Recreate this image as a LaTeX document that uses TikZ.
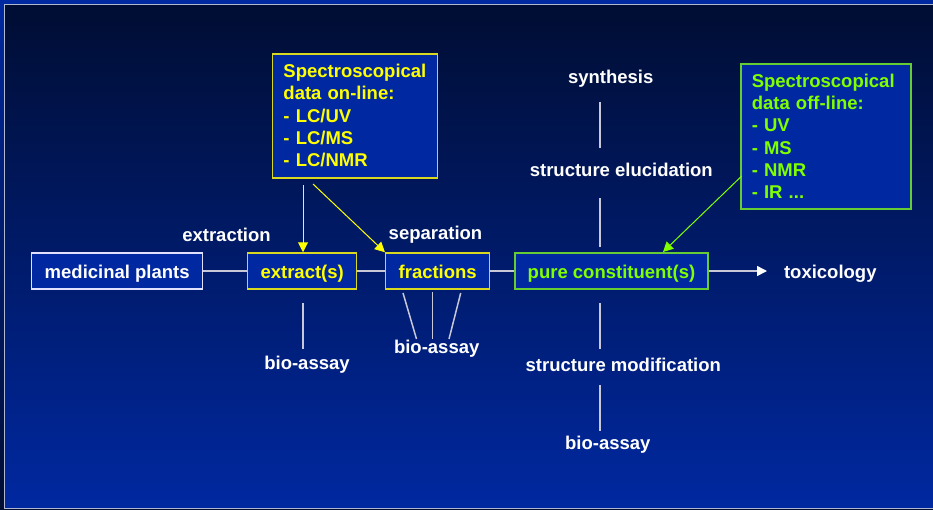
\documentclass[tikz,border=0pt]{standalone}
\usepackage{fontspec}
\setmainfont{Liberation Sans}
\usetikzlibrary{arrows.meta}
\definecolor{bgtop}{HTML}{000D33}
\definecolor{bgbot}{HTML}{0028A0}
\definecolor{boxfill}{HTML}{0028A0}
\definecolor{ylw}{HTML}{FFFF00}
\definecolor{ylwborder}{HTML}{D8D820}
\definecolor{grn}{HTML}{80FF00}
\definecolor{grnborder}{HTML}{66CC33}
\definecolor{conncol}{HTML}{C8C8D8}
\definecolor{frame}{HTML}{B0B8D0}
\tikzset{
  lbl/.style={font=\fontsize{18.5}{22}\selectfont\bfseries, text=white, inner sep=0pt, anchor=base},
  boxnode/.style={draw, line width=1.5pt, fill=boxfill, font=\fontsize{18.5}{22}\selectfont\bfseries,
     minimum height=36pt, inner sep=0pt, text height=14.6pt, text depth=0pt},
  whitebox/.style={boxnode, draw=white!88!blue, text=white},
  ylwbox/.style={boxnode, draw=ylwborder, text=ylw},
  grnbox/.style={boxnode, draw=grnborder, text=grn},
  infobox/.style={draw, line width=1.5pt, fill=boxfill, font=\fontsize{18.5}{22.3}\selectfont\bfseries,
     align=left, inner xsep=11pt, inner ysep=0pt, anchor=north west},
  conn/.style={draw=conncol, line width=1.5pt},
  yarrow/.style={draw=ylw, line width=1pt, -{Triangle[length=10pt,width=10pt]}},
  garrow/.style={draw=grn, line width=1pt, -{Triangle[length=10pt,width=10pt]}},
  warrow/.style={draw=conncol, line width=1.5pt, -{Triangle[length=10pt,width=10pt,fill=white,color=white]}}
}
\begin{document}
\begin{tikzpicture}[x=1pt,y=-1pt]
\useasboundingbox (0,0) rectangle (933,509);
% background
\shade[top color=bgbot, bottom color=bgtop] (0,0) rectangle (933,509);
\shade[top color=bgtop, bottom color=bgbot] (5,5) rectangle (933,507.5);
\draw[frame, line width=1pt] (933,4.5) -- (4.5,4.5) -- (4.5,508) -- (933,508);

% main row
\node[whitebox, minimum width=171pt] (plants) at (117.2,271) {medicinal plants};
\node[ylwbox, minimum width=109pt] (extract) at (302.2,271) {extract(s)};
\node[ylwbox, minimum width=104pt] (fractions) at (437.7,271) {fractions};
\node[grnbox, minimum width=193pt] (pure) at (611.5,271) {pure constituent(s)};
\node[lbl] (tox) at (830.3,278) {toxicology};
\coordinate (toxend) at (767,271);

\draw[conn] (plants) -- (extract);
\draw[conn] (extract) -- (fractions);
\draw[conn] (fractions) -- (pure);
\draw[warrow] (pure.east) -- (toxend);

% labels
\node[lbl] (extraction) at (226.5,241) {extraction};
\node[lbl] (separation) at (435.5,239.5) {separation};
\node[lbl] (bio1) at (307,369.3) {bio-assay};
\node[lbl] (bio2) at (436.7,353.7) {bio-assay};
\node[lbl] (synth) at (610.7,83.7) {synthesis};
\node[lbl] (elucid) at (621.3,176) {structure elucidation};
\node[lbl] (modif) at (623.3,371.5) {structure modification};
\node[lbl] (bio3) at (607.8,449.5) {bio-assay};

% bio-assay connectors
\coordinate (e1a) at (303,303); \coordinate (e1b) at (303,349);
\draw[conn] (e1a) -- (e1b);
\coordinate (f1a) at (403,293); \coordinate (f1b) at (416.5,339);
\coordinate (f2a) at (432.7,292); \coordinate (f2b) at (432.7,339);
\coordinate (f3a) at (460.7,293); \coordinate (f3b) at (449,339);
\draw[conn] (f1a) -- (f1b);
\draw[conn] (f2a) -- (f2b);
\draw[conn] (f3a) -- (f3b);

% vertical column at x=600
\coordinate (v1a) at (600,101.7); \coordinate (v1b) at (600,148);
\coordinate (v2a) at (600,198); \coordinate (v2b) at (600,247);
\coordinate (v3a) at (600,303); \coordinate (v3b) at (600,349);
\coordinate (v4a) at (600,385); \coordinate (v4b) at (600,431);
\draw[conn] (v1a) -- (v1b);
\draw[conn] (v2a) -- (v2b);
\draw[conn] (v3a) -- (v3b);
\draw[conn] (v4a) -- (v4b);

% spectroscopic on-line box
\node[infobox, draw=ylwborder, text=ylw, text width=143pt, minimum height=124pt] (online) at (271.7,53)
  {Spectroscopical\\data on-line:\\- LC/UV\\- LC/MS\\- LC/NMR};
\coordinate (on1) at (303,185);
\coordinate (on2) at (313,184);
\draw[yarrow] (on1) -- (extract.north -| on1);
\draw[yarrow] (on2) -- (fractions.north west);

% spectroscopic off-line box
\node[infobox, draw=grnborder, text=grn, text width=148pt, minimum height=145pt] (offline) at (740,63)
  {Spectroscopical\\data off-line:\\- UV\\- MS\\- NMR\\- IR ...};
\coordinate (off1) at (741.7,176);
\coordinate (off2) at (663,252);
\draw[garrow] (off1) -- (off2);
\end{tikzpicture}
\end{document}
